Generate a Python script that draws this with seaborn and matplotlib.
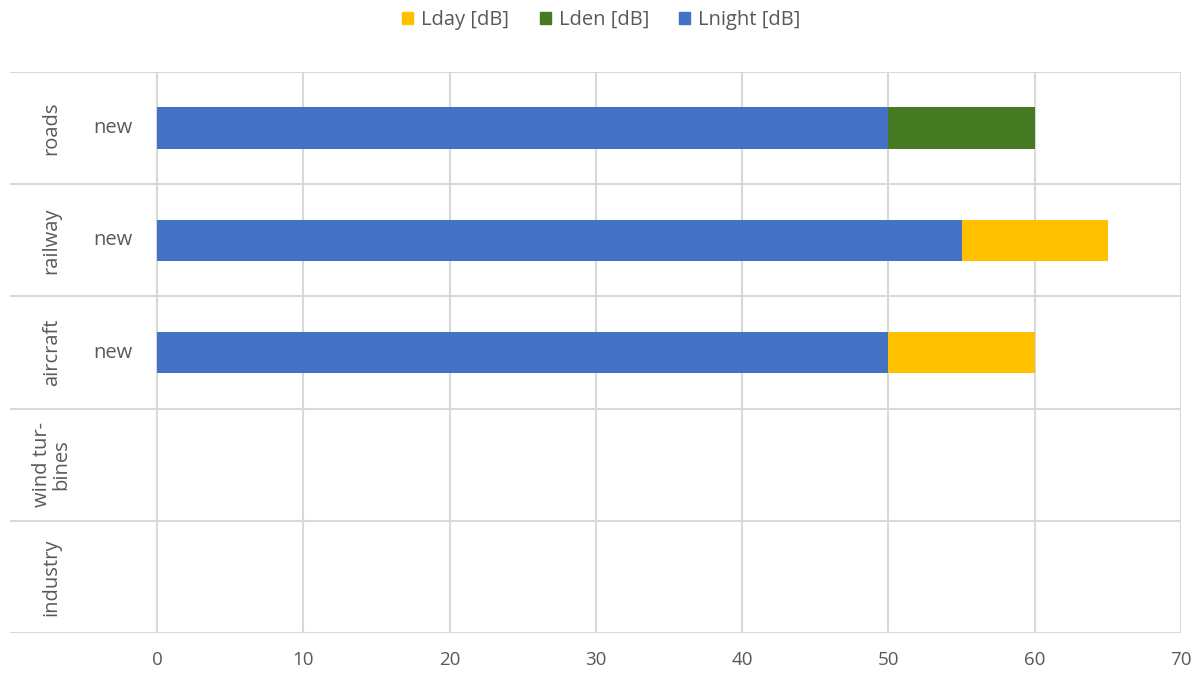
"""
噪声指标堆叠条形图 (Lnight / Lden / Lday)
"""
import numpy as np
import pandas as pd
import matplotlib
matplotlib.use("Agg")
import matplotlib.pyplot as plt
from matplotlib.patches import Patch
import seaborn as sns

sns.set_style("white")
plt.rcParams['font.family'] = ['Open Sans', 'DejaVu Sans']

# 数据
categories = ['roads', 'railway', 'aircraft', 'wind tur-\nbines', 'industry']
sub_labels = ['new', 'new', 'new', '', '']
lnight = [50, 55, 50, 0, 0]
lden = [10, 0, 0, 0, 0]
lday = [0, 10, 10, 0, 0]
x_ticks = [0, 10, 20, 30, 40, 50, 60, 70]

colors = {'Lday [dB]': '#FFC000', 'Lden [dB]': '#467A23', 'Lnight [dB]': '#4472C4'}
grid_c = '#D9D9D9'
text_c = '#595959'

df = pd.DataFrame({'cat': categories, 'Lnight': lnight, 'Lden': lden, 'Lday': lday})
df['c_den'] = df['Lnight'] + df['Lden']
df['c_day'] = df['c_den'] + df['Lday']

W, H = 1203, 677
fig = plt.figure(figsize=(W / 100, H / 100), dpi=100)
ax = fig.add_axes([10 / W, (H - 633) / H, (1181 - 10) / W, (633 - 72) / H])

# 堆叠：从后往前画累计值
bar_w = 0.37
for col, key in [('c_day', 'Lday [dB]'), ('c_den', 'Lden [dB]'), ('Lnight', 'Lnight [dB]')]:
    sns.barplot(data=df, y='cat', x=col, orient='h', color=colors[key],
                width=bar_w, saturation=1, linewidth=0, ax=ax, zorder=3)

x_left = -147 / ((1181 - 157) / 70)
ax.set_xlim(x_left, 70)
ax.set_ylim(4.5, -0.5)
ax.set_xticks(x_ticks)
ax.set_yticks([])
ax.set_xlabel('')
ax.set_ylabel('')
for s in ax.spines.values():
    s.set_visible(False)

# 网格
for t in x_ticks:
    ax.axvline(t, color=grid_c, lw=1.5, zorder=1)
for b in np.arange(-0.5, 5, 1):
    ax.axhline(b, color=grid_c, lw=1.5, zorder=1)

ax.tick_params(axis='x', length=0, labelsize=13.5, colors=text_c, pad=13)

# 类别标签
for i, (c, s) in enumerate(zip(categories, sub_labels)):
    ax.text(-7.2, i, c, rotation=90, ha='center', va='center', fontsize=14.5,
            color=text_c, linespacing=1.0)
    if s:
        ax.text(-3.0, i, s, ha='center', va='center', fontsize=14.5, color=text_c)

handles = [Patch(color=v, label=k) for k, v in colors.items()]
fig.legend(handles=handles, loc='center', bbox_to_anchor=(0.5, 1 - 20 / H), ncol=3,
           frameon=False, fontsize=14.5, handlelength=0.55, handleheight=0.55,
           handletextpad=0.4, columnspacing=1.5, labelcolor=text_c)

plt.savefig('out.png', dpi=100)
